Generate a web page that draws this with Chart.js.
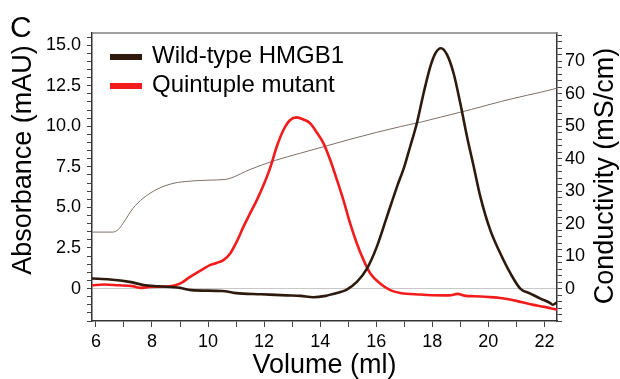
<!DOCTYPE html>
<html>
<head>
<meta charset="utf-8">
<script src="https://cdn.jsdelivr.net/npm/chart.js@4.4.1/dist/chart.umd.min.js"></script>
<style>
  html, body { margin: 0; padding: 0; background: #fff; }
  #wrap { position: relative; width: 620px; height: 379px; }
</style>
</head>
<body>
<div id="wrap"><canvas id="chart" width="620" height="379"></canvas></div>
<script>
// Readings taken off the chromatogram (volume in ml, absorbance in mAU)
const wildTypeVolume = [5.86, 6.5, 7.2, 7.7, 8.2, 9.0, 9.4, 10.5, 11.0, 11.9, 12.8, 13.3, 13.75, 14.2, 14.46, 14.75, 14.95, 15.31, 15.67, 16.02, 16.38, 16.74, 17.0, 17.21, 17.45, 17.69, 17.93, 18.11, 18.31, 18.53, 18.76, 19.0, 19.24, 19.48, 19.71, 20.07, 20.43, 20.79, 21.14, 21.5, 21.86, 22.21, 22.3, 22.45];
const wildTypeAbs = [0.62, 0.56, 0.41, 0.22, 0.14, 0.04, -0.1, -0.15, -0.28, -0.35, -0.42, -0.45, -0.54, -0.45, -0.33, -0.2, -0.06, 0.41, 1.23, 2.57, 4.42, 6.27, 7.5, 8.74, 10.19, 12.04, 13.68, 14.5, 14.81, 14.4, 13.27, 11.42, 9.36, 7.51, 5.7, 3.6, 2.16, 0.93, 0.0, -0.31, -0.62, -0.9, -1.0, -0.85];

const mutantVolume = [5.86, 6.3, 6.8, 7.3, 7.6, 7.9, 8.3, 8.64, 9.0, 9.36, 9.82, 10.07, 10.3, 10.55, 10.79, 11.02, 11.26, 11.5, 11.74, 11.98, 12.21, 12.45, 12.69, 12.93, 13.17, 13.4, 13.64, 13.88, 14.12, 14.36, 14.6, 14.83, 15.07, 15.31, 15.55, 15.79, 16.14, 16.5, 16.86, 17.57, 18.0, 18.6, 18.9, 19.2, 19.5, 20.0, 20.5, 21.0, 21.5, 22.0, 22.45];
const mutantAbs = [0.2, 0.25, 0.2, 0.15, 0.04, 0.1, 0.12, 0.14, 0.3, 0.72, 1.2, 1.44, 1.58, 1.75, 2.16, 2.88, 3.8, 4.63, 5.45, 6.38, 7.41, 8.74, 9.77, 10.39, 10.55, 10.42, 10.19, 9.62, 8.95, 7.92, 6.69, 5.45, 4.01, 2.78, 1.75, 0.93, 0.31, -0.1, -0.27, -0.37, -0.41, -0.42, -0.33, -0.45, -0.47, -0.52, -0.6, -0.76, -0.97, -1.13, -1.3];

// Conductivity trace (mS/cm), right axis
const condVolume = [5.86, 6.6, 6.8, 6.96, 7.32, 7.68, 8.18, 8.75, 9.36, 10.0, 10.6, 10.8, 11.5, 12.4, 13.29, 14.2, 15.07, 16.0, 16.86, 17.6, 18.29, 19.4, 20.43, 21.4, 22.3, 22.45];
const condValue = [17.4, 17.4, 18.2, 20, 24.7, 27.8, 30.6, 32.4, 33.1, 33.4, 33.6, 34.0, 36.7, 39.5, 41.7, 43.9, 46, 48.1, 49.9, 51.3, 52.8, 55.2, 57.6, 59.6, 61.4, 61.8];

const absMajorTicks = [0, 2.5, 5, 7.5, 10, 12.5, 15];
const condMajorTicks = [0, 10, 20, 30, 40, 50, 60, 70];
const volumeMajorTicks = [6, 8, 10, 12, 14, 16, 18, 20, 22];

const legendItems = [
    { label: 'Wild-type HMGB1', color: '#2e1a0d' },
    { label: 'Quintuple mutant', color: '#f21c1c' },
];

const FONT = '"Liberation Sans", Arial, sans-serif';

const toPoints = (xs, ys) => xs.map((x, i) => ({ x, y: ys[i] }));

const decorations = {
    id: 'decorations',
    afterDraw(chart) {
        const { ctx, chartArea } = chart;
        ctx.save();

        // top frame line
        ctx.strokeStyle = '#808080';
        ctx.lineWidth = 1.5;
        ctx.beginPath();
        ctx.moveTo(chartArea.left, chartArea.top);
        ctx.lineTo(chartArea.right, chartArea.top);
        ctx.stroke();

        ctx.fillStyle = '#000';

        // panel letter
        ctx.font = `30px ${FONT}`;
        ctx.textBaseline = 'alphabetic';
        ctx.textAlign = 'left';
        ctx.fillText('C', 10, 37);

        // legend
        ctx.font = `24px ${FONT}`;
        ctx.textBaseline = 'middle';
        legendItems.forEach((item, i) => {
            const y = chartArea.top + 24 + i * 29;
            ctx.strokeStyle = item.color;
            ctx.lineWidth = 6;
            ctx.beginPath();
            ctx.moveTo(chartArea.left + 18, y);
            ctx.lineTo(chartArea.left + 50, y);
            ctx.stroke();
            ctx.fillText(item.label, chartArea.left + 60, y - 1);
        });

        // vertical axis titles, both reading bottom to top
        ctx.font = `27px ${FONT}`;
        ctx.textAlign = 'center';
        ctx.save();
        ctx.translate(24, 160);
        ctx.rotate(-Math.PI / 2);
        ctx.fillText('Absorbance (mAU)', 0, 0);
        ctx.restore();

        ctx.save();
        ctx.translate(606, 176);
        ctx.rotate(-Math.PI / 2);
        ctx.fillText('Conductivity (mS/cm)', 0, 0);
        ctx.restore();

        ctx.restore();
    },
};

const tickFont = { family: FONT, size: 18 };

new Chart(document.getElementById('chart'), {
    type: 'line',
    data: {
        datasets: [
            {
                label: legendItems[0].label,
                data: toPoints(wildTypeVolume, wildTypeAbs),
                borderColor: legendItems[0].color,
                borderWidth: 2.6,
                yAxisID: 'y',
            },
            {
                label: legendItems[1].label,
                data: toPoints(mutantVolume, mutantAbs),
                borderColor: legendItems[1].color,
                borderWidth: 2.6,
                yAxisID: 'y',
            },
            {
                label: 'Conductivity',
                data: toPoints(condVolume, condValue),
                borderColor: '#7d706a',
                borderWidth: 1,
                yAxisID: 'y2',
            },
        ],
    },
    options: {
        responsive: false,
        animation: false,
        layout: { padding: { top: 33, left: 0, right: 0, bottom: 0 } },
        elements: {
            point: { radius: 0 },
            line: { cubicInterpolationMode: 'monotone' },
        },
        plugins: {
            legend: { display: false },
            tooltip: { enabled: false },
        },
        scales: {
            x: {
                type: 'linear',
                position: 'bottom',
                min: 5.86,
                max: 22.45,
                afterFit: (scale) => { scale.height = 58; },
                border: { color: '#333', width: 1.5 },
                grid: { drawOnChartArea: false, tickLength: 6, tickColor: '#444' },
                ticks: {
                    stepSize: 1,
                    includeBounds: false,
                    autoSkip: false,
                    maxRotation: 0,
                    padding: 4,
                    color: '#000',
                    font: tickFont,
                    callback: (v) => (volumeMajorTicks.includes(v) ? String(v) : ''),
                },
                title: {
                    display: true,
                    text: 'Volume (ml)',
                    color: '#000',
                    font: { family: FONT, size: 27, lineHeight: 1 },
                    padding: 0,
                },
            },
            y: {
                position: 'left',
                min: -2,
                max: 15.75,
                afterFit: (scale) => { scale.width = 92; },
                border: { color: '#333', width: 1.5 },
                grid: {
                    drawOnChartArea: true,
                    color: (c) => (c.tick && c.tick.value === 0 ? '#c8c8c8' : 'rgba(0,0,0,0)'),
                    tickColor: '#444',
                    tickLength: 5,
                },
                ticks: {
                    stepSize: 0.5,
                    includeBounds: false,
                    autoSkip: false,
                    maxTicksLimit: 100,
                    padding: 6,
                    color: '#000',
                    font: tickFont,
                    callback: (v) => (absMajorTicks.includes(v) ? (v === 0 ? '0' : v.toFixed(1)) : ''),
                },
            },
            y2: {
                position: 'right',
                min: -10,
                max: 78.75,
                afterFit: (scale) => { scale.width = 63; },
                border: { color: '#333', width: 1.5 },
                grid: { drawOnChartArea: false, tickColor: '#444', tickLength: 5 },
                ticks: {
                    stepSize: 2,
                    includeBounds: false,
                    autoSkip: false,
                    maxTicksLimit: 100,
                    padding: 3,
                    color: '#000',
                    font: tickFont,
                    callback: (v) => (condMajorTicks.includes(v) ? String(v) : ''),
                },
            },
        },
    },
    plugins: [decorations],
});
</script>
</body>
</html>
